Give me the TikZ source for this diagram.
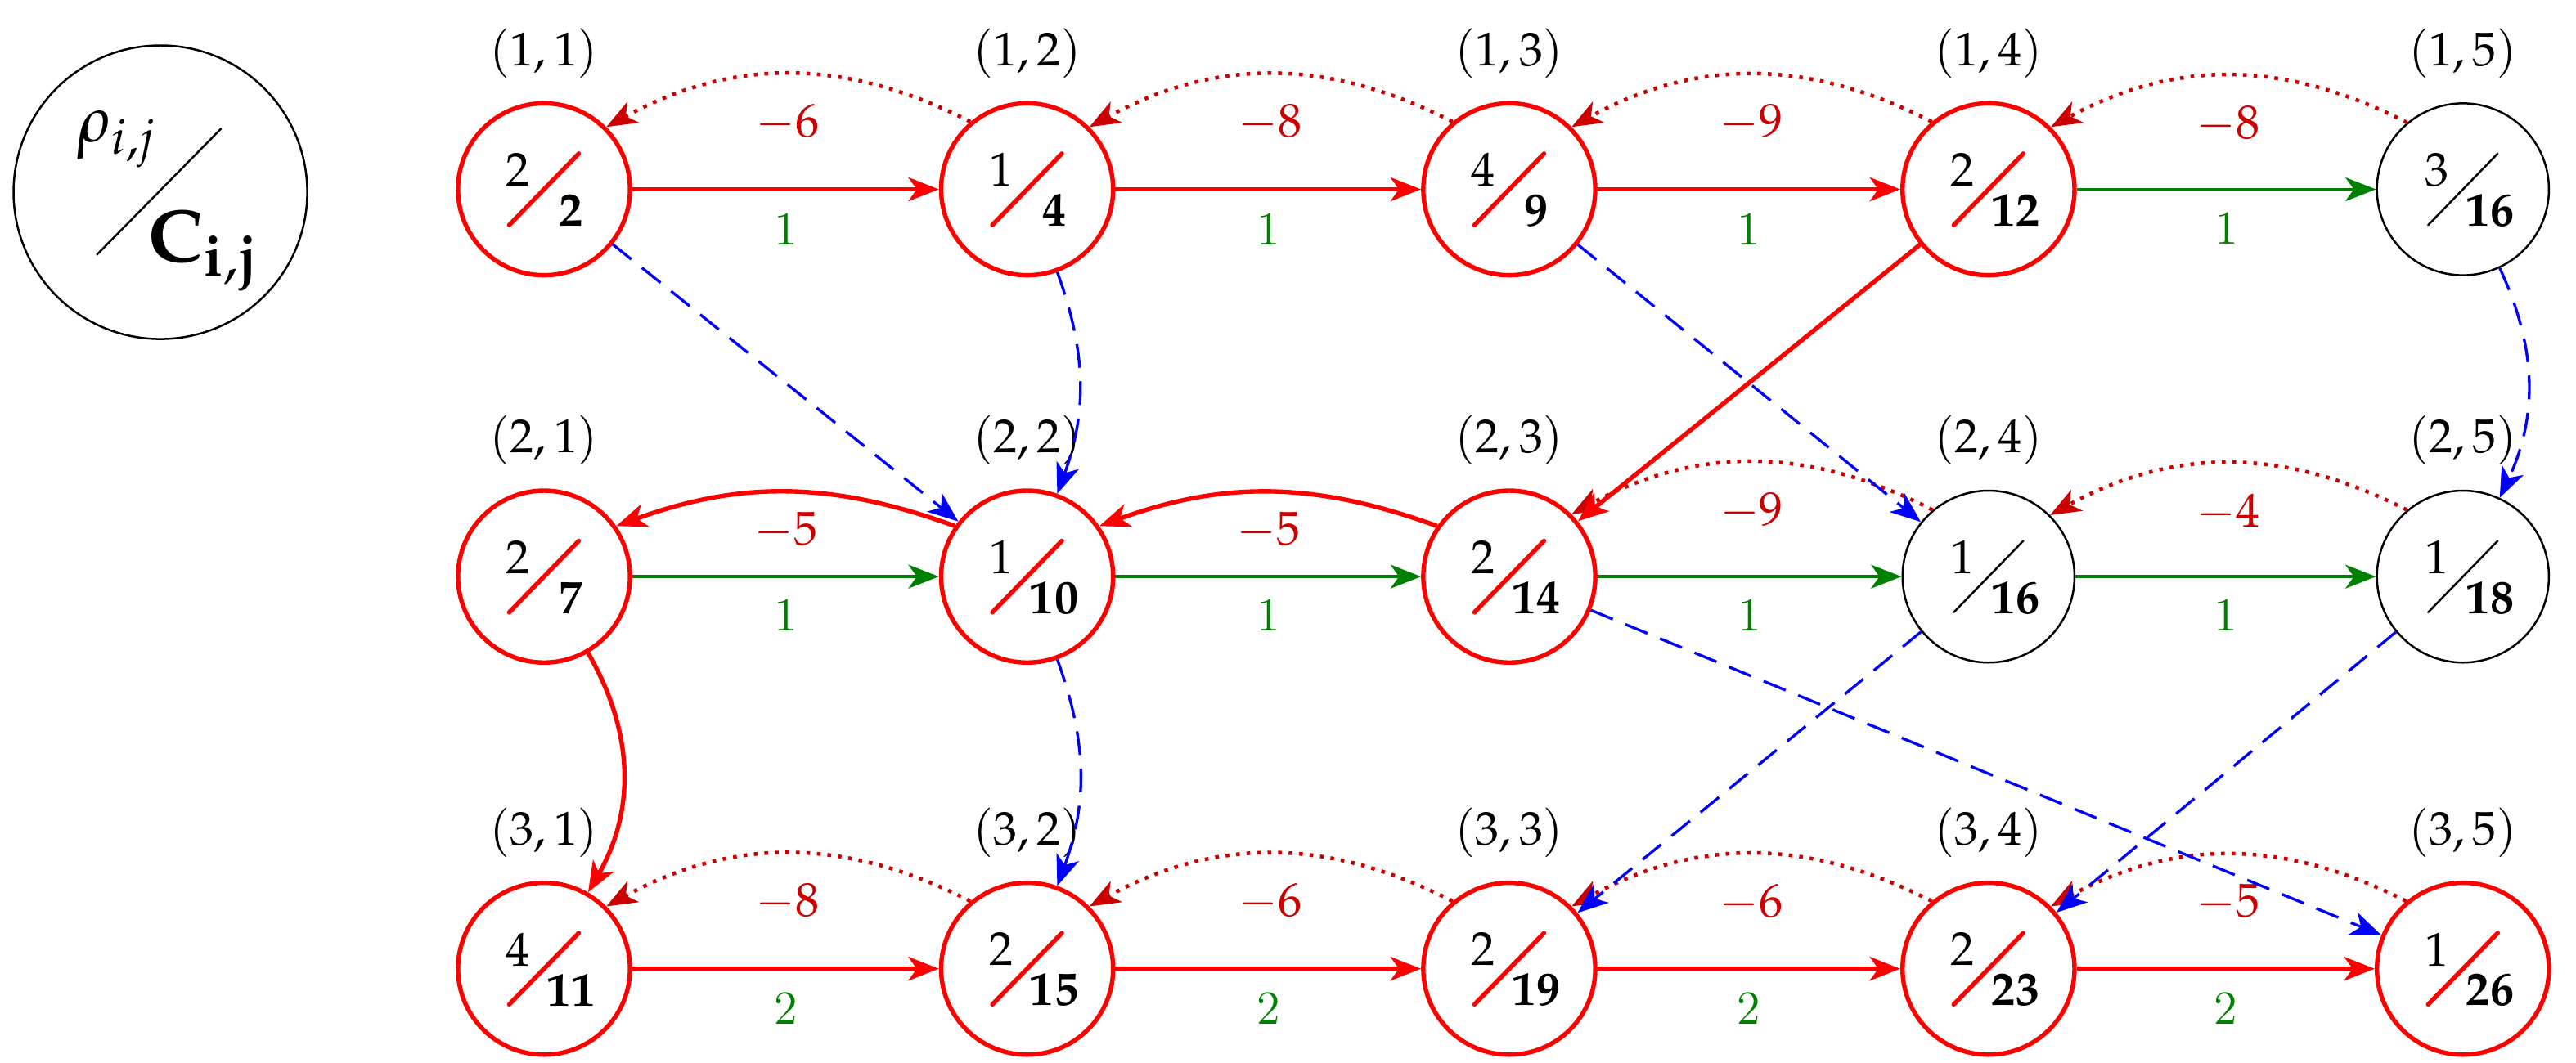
\documentclass[tikz,border=0pt]{standalone}
\usepackage{mathpazo}
\usepackage{tikz}
\usetikzlibrary{arrows.meta,positioning,calc}
\definecolor{dkgreen}{rgb}{0,0.5,0}
\definecolor{dotred}{rgb}{0.8,0,0}
\tikzstyle{tip} = [-{Stealth[length=9pt, width=7pt, inset=2.5pt]}]
\tikzstyle{st} = [circle, minimum size=1.78cm, draw=black, semithick, inner sep=0pt]
\tikzstyle{opt} = [st, draw=red, line width=1.3pt]
\tikzstyle{fwd} = [line width=0.8pt, dkgreen, tip]
\tikzstyle{path} = [line width=1.3pt, red, tip]
\tikzstyle{back} = [dotred, dotted, line width=1.1pt, tip, bend right=28]
\tikzstyle{jump} = [line width=0.8pt, blue, dash pattern=on 7pt off 4pt, tip]
\tikzstyle{wt} = [font=\fontsize{14}{16}\selectfont]
\newcommand{\cell}[5]{% name, rho, C, colour of slash, i/j label
  \draw[#4, line cap=round] ($(#1)+(-0.36,-0.37)$) -- ($(#1)+(0.36,0.37)$);
  \node[wt] at ($(#1)+(-0.27,0.2)$) {$#2$};
  \node[wt] at ($(#1)+(0.28,-0.22)$) {$\mathbf{#3}$};
  \node[wt] at ($(#1)+(0,1.41)$) {$(#5)$};
}
\begin{document}
\begin{tikzpicture}
    \useasboundingbox (0,0) rectangle (26.66,11.0);
    % legend
    \node[circle, minimum size=3.04cm, draw=black, semithick] (key) at (1.66,9.01) {};
    \draw[semithick] ($(key)+(-0.66,-0.65)$) -- ($(key)+(0.63,0.66)$);
    \node[font=\fontsize{19}{22}\selectfont] at ($(key)+(-0.45,0.55)$) {$\rho_{i,j}$};
    \node[font=\fontsize{22}{26}\selectfont] at ($(key)+(0.45,-0.6)$) {$\mathbf{C_{i,j}}$};
    % states
    \node[opt] (a1) at (5.63,9.04) {};
    \node[opt] (a2) at (10.63,9.04) {};
    \node[opt] (a3) at (15.62,9.04) {};
    \node[opt] (a4) at (20.58,9.04) {};
    \node[st]  (a5) at (25.49,9.04) {};
    \node[opt] (b1) at (5.63,5.03) {};
    \node[opt] (b2) at (10.63,5.03) {};
    \node[opt] (b3) at (15.62,5.03) {};
    \node[st]  (b4) at (20.58,5.03) {};
    \node[st]  (b5) at (25.49,5.03) {};
    \node[opt] (c1) at (5.63,0.97) {};
    \node[opt] (c2) at (10.63,0.97) {};
    \node[opt] (c3) at (15.62,0.97) {};
    \node[opt] (c4) at (20.58,0.97) {};
    \node[opt] (c5) at (25.49,0.97) {};
    \cell{a1}{2}{2}{red, line width=1.3pt}{1,1}
    \cell{a2}{1}{4}{red, line width=1.3pt}{1,2}
    \cell{a3}{4}{9}{red, line width=1.3pt}{1,3}
    \cell{a4}{2}{12}{red, line width=1.3pt}{1,4}
    \cell{a5}{3}{16}{black, semithick}{1,5}
    \cell{b1}{2}{7}{red, line width=1.3pt}{2,1}
    \cell{b2}{1}{10}{red, line width=1.3pt}{2,2}
    \cell{b3}{2}{14}{red, line width=1.3pt}{2,3}
    \cell{b4}{1}{16}{black, semithick}{2,4}
    \cell{b5}{1}{18}{black, semithick}{2,5}
    \cell{c1}{4}{11}{red, line width=1.3pt}{3,1}
    \cell{c2}{2}{15}{red, line width=1.3pt}{3,2}
    \cell{c3}{2}{19}{red, line width=1.3pt}{3,3}
    \cell{c4}{2}{23}{red, line width=1.3pt}{3,4}
    \cell{c5}{1}{26}{red, line width=1.3pt}{3,5}
    % forward moves
    \draw[path] (a1) -- node[below=3pt, wt, dkgreen] {1} (a2);
    \draw[path] (a2) -- node[below=3pt, wt, dkgreen] {1} (a3);
    \draw[path] (a3) -- node[below=3pt, wt, dkgreen] {1} (a4);
    \draw[fwd] (a4) -- node[below=3pt, wt, dkgreen] {1} (a5);
    \draw[fwd] (b1) -- node[below=3pt, wt, dkgreen] {1} (b2);
    \draw[fwd] (b2) -- node[below=3pt, wt, dkgreen] {1} (b3);
    \draw[fwd] (b3) -- node[below=3pt, wt, dkgreen] {1} (b4);
    \draw[fwd] (b4) -- node[below=3pt, wt, dkgreen] {1} (b5);
    \draw[path] (c1) -- node[below=3pt, wt, dkgreen] {2} (c2);
    \draw[path] (c2) -- node[below=3pt, wt, dkgreen] {2} (c3);
    \draw[path] (c3) -- node[below=3pt, wt, dkgreen] {2} (c4);
    \draw[path] (c4) -- node[below=3pt, wt, dkgreen] {2} (c5);
    % backward moves
    \draw[back] (a2.130) to node[below=5pt, wt] {$-6$} (a1.45);
    \draw[back] (a3.130) to node[below=5pt, wt] {$-8$} (a2.45);
    \draw[back] (a4.130) to node[below=5pt, wt] {$-9$} (a3.45);
    \draw[back] (a5.130) to node[below=5pt, wt] {$-8$} (a4.45);
    \draw[back] (b4.130) to node[below=5pt, wt] {$-9$} (b3.45);
    \draw[back] (b5.130) to node[below=5pt, wt] {$-4$} (b4.45);
    \draw[back] (c2.130) to node[below=5pt, wt] {$-8$} (c1.45);
    \draw[back] (c3.130) to node[below=5pt, wt] {$-6$} (c2.45);
    \draw[back] (c4.130) to node[below=5pt, wt] {$-6$} (c3.45);
    \draw[back] (c5.130) to node[below=5pt, wt] {$-5$} (c4.45);
    \draw[path] (b2.145) to[bend right=20] node[below=2pt, wt, dotred] {$-5$} (b1.35);
    \draw[path] (b3.145) to[bend right=20] node[below=2pt, wt, dotred] {$-5$} (b2.35);
    \draw[path] (a4) -- (b3);
    \draw[path] (b1) to[bend left=30] (c1);
    % jumps
    \draw[jump] (a1) -- (b2);
    \draw[jump] (a2) to[bend left=20] (b2);
    \draw[jump] (a3) -- (b4);
    \draw[jump] (a5) to[bend left=25] (b5);
    \draw[jump] (b2) to[bend left=20] (c2);
    \draw[jump] (b4) -- (c3);
    \draw[jump] (b3) -- (c5);
    \draw[jump] (b5) -- (c4);
\end{tikzpicture}
\end{document}
